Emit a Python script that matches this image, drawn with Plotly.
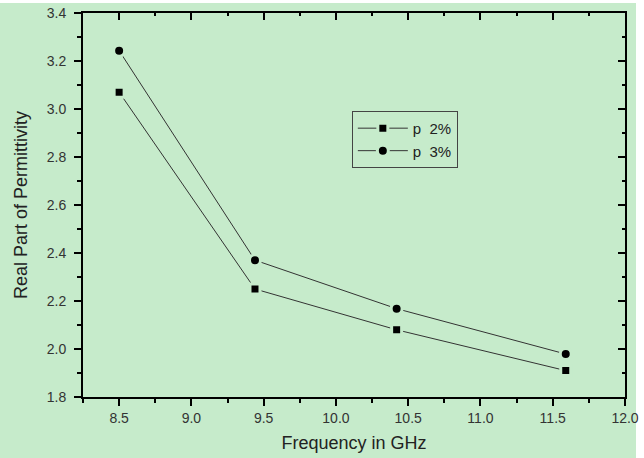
import plotly.graph_objects as go

freq = [8.5, 9.44, 10.42, 11.59]
p2 = [3.07, 2.25, 2.08, 1.91]
p3 = [3.243, 2.37, 2.168, 1.979]
series_names = ["p  2%", "p  3%"]

BG = "#C6EBCB"
FONT = "Liberation Sans, Arial, sans-serif"

fig = go.Figure()
fig.add_trace(go.Scatter(
    x=freq, y=p2, name=series_names[0], mode="lines+markers",
    line=dict(color="#333333", width=1),
    marker=dict(symbol="square", size=10, color="black", line=dict(color=BG, width=3)),
))
fig.add_trace(go.Scatter(
    x=freq, y=p3, name=series_names[1], mode="lines+markers",
    line=dict(color="#333333", width=1),
    marker=dict(symbol="circle", size=11, color="black", line=dict(color=BG, width=3)),
))
# invisible trace to carry the mirrored (top/right) axes
fig.add_trace(go.Scatter(
    x=freq, y=p2, xaxis="x2", yaxis="y2", mode="markers",
    marker=dict(opacity=0), showlegend=False, hoverinfo="skip",
))

tickfont = dict(family=FONT, size=14, color="#333333")
titlefont = dict(family=FONT, size=18, color="#222222")

# green panel behind the whole chart (thin white strips remain at top and right)
fig.add_shape(type="rect", xref="paper", yref="paper",
              x0=-0.16, x1=1.0203, y0=-0.17, y1=1.026,
              fillcolor=BG, line=dict(width=0), layer="below")

fig.update_layout(
    width=644, height=458,
    paper_bgcolor="white", plot_bgcolor=BG,
    margin=dict(l=83, r=19, t=13, b=61),
    font=dict(family=FONT, color="#222222"),
    xaxis=dict(
        range=[8.25, 12.0], tick0=8.5, dtick=0.5, tickformat=".1f", automargin=False,
        showgrid=False, zeroline=False, showline=True, linecolor="black", linewidth=2,
        ticks="outside", ticklen=7, tickwidth=1.5, tickcolor="black",
        minor=dict(dtick=0.25, tick0=8.25, ticks="outside", ticklen=4, tickcolor="black", tickwidth=1.5),
        tickfont=tickfont, ticklabeloverflow="allow",
        title=dict(text="Frequency in GHz", font=titlefont, standoff=12),
    ),
    yaxis=dict(
        range=[1.8, 3.4], dtick=0.2, tickformat=".1f", automargin=False,
        showgrid=False, zeroline=False, showline=True, linecolor="black", linewidth=2,
        ticks="outside", ticklen=7, tickwidth=1.5, tickcolor="black",
        minor=dict(dtick=0.1, ticks="outside", ticklen=4, tickcolor="black", tickwidth=1.5),
        tickfont=tickfont, ticklabelstandoff=5, ticklabeloverflow="allow",
        title=dict(text="Real Part of Permittivity", font=titlefont, standoff=14),
    ),
    xaxis2=dict(
        overlaying="x", side="top", range=[8.25, 12.0], tick0=8.5, dtick=0.5, automargin=False,
        showgrid=False, zeroline=False, showline=True, linecolor="black", linewidth=2,
        ticks="inside", ticklen=7, tickwidth=1.5, tickcolor="black", showticklabels=False,
        minor=dict(dtick=0.25, tick0=8.25, ticks="inside", ticklen=3, tickcolor="black", tickwidth=1.5),
    ),
    yaxis2=dict(
        overlaying="y", side="right", range=[1.8, 3.4], dtick=0.2, automargin=False,
        showgrid=False, zeroline=False, showline=True, linecolor="black", linewidth=2,
        ticks="inside", ticklen=7, tickwidth=1.5, tickcolor="black", showticklabels=False,
        minor=dict(dtick=0.1, ticks="inside", ticklen=3, tickcolor="black", tickwidth=1.5),
    ),
    legend=dict(
        x=0.496, y=0.745, xanchor="left", yanchor="top",
        bgcolor=BG, bordercolor="#444444", borderwidth=1,
        font=dict(family=FONT, size=15, color="#222222"),
        tracegroupgap=0, itemwidth=50,
    ),
    showlegend=True,
)

fig.write_html("out.html", config={"displayModeBar": False},
               post_script="document.body.style.margin='0px';")
